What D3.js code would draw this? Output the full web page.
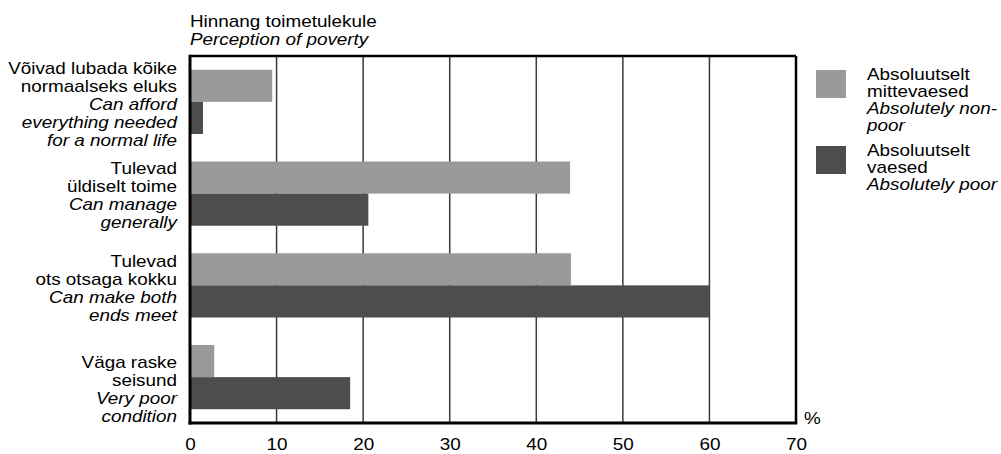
<!DOCTYPE html>
<html><head><meta charset="utf-8">
<script src="https://cdn.jsdelivr.net/npm/d3@7"></script>
<style>
html,body{margin:0;padding:0;background:#fff;}
svg{display:block;font-family:"Liberation Sans",Arial,sans-serif;}
</style></head>
<body><svg id="c" width="1001" height="454"></svg>
<script>
// ---- data ----
const categories = ["afford", "manage", "ends", "poorcond"];
const categoryLabelsEt = [
  ["Võivad lubada kõike", "normaalseks eluks"],
  ["Tulevad", "üldiselt toime"],
  ["Tulevad", "ots otsaga kokku"],
  ["Väga raske", "seisund"]
];
const categoryLabelsEn = [
  ["Can afford", "everything needed", "for a normal life"],
  ["Can manage", "generally"],
  ["Can make both", "ends meet"],
  ["Very poor", "condition"]
];
const seriesKeys = ["nonPoor", "poor"];
const seriesLabelsEt = [["Absoluutselt", "mittevaesed"], ["Absoluutselt", "vaesed"]];
const seriesLabelsEn = [["Absolutely non-", "poor"], ["Absolutely poor"]];
const nonPoorValues = [9.5, 43.9, 44.0, 2.8];
const poorValues = [1.5, 20.6, 60.0, 18.5];
const xTicks = [0, 10, 20, 30, 40, 50, 60, 70];
const titleLines = ["Hinnang toimetulekule", "Perception of poverty"];
const unitLabel = "%";

// ---- layout ----
const svg = d3.select("#c");
const L = 190, R = 796, T = 56, B = 423;
const SX = 1.18, FS = 16, LH = 18;
const colors = {nonPoor: "#9a9a9a", poor: "#4d4d4d"};
const labelShift = [3, 2, 4, 13];

const x = d3.scaleLinear().domain([0, 70]).range([L, R]);
const y = d3.scaleBand().domain(categories).range([T, B]).paddingInner(0.3).paddingOuter(0.15);
const ys = d3.scaleBand().domain(seriesKeys).range([0, y.bandwidth()]);

function txt(g, xx, yy, s, anchor, italic) {
  const gg = g.append("g").attr("transform", `translate(${xx},${yy}) scale(${SX},1)`);
  gg.append("text").attr("text-anchor", anchor || "start")
    .attr("font-size", FS).attr("font-style", italic ? "italic" : "normal")
    .attr("fill", "#000").text(s);
}

// gridlines
svg.append("g").selectAll("line").data(xTicks.slice(1, -1)).join("line")
  .attr("x1", d => x(d)).attr("x2", d => x(d)).attr("y1", T).attr("y2", B)
  .attr("stroke", "#3a3a3a").attr("stroke-width", 1.5);

// bars
const data = categories.map((c, i) => ({c, nonPoor: nonPoorValues[i], poor: poorValues[i]}));
const gBars = svg.append("g");
data.forEach(d => {
  seriesKeys.forEach(k => {
    gBars.append("rect")
      .attr("x", x(0)).attr("y", y(d.c) + ys(k))
      .attr("width", x(d[k]) - x(0)).attr("height", ys.bandwidth())
      .attr("fill", colors[k]);
  });
});

// frame
svg.append("line").attr("x1", L).attr("x2", R).attr("y1", T).attr("y2", T).attr("stroke", "#000").attr("stroke-width", 2.5);
svg.append("line").attr("x1", R).attr("x2", R).attr("y1", T).attr("y2", B).attr("stroke", "#000").attr("stroke-width", 2.5);
svg.append("line").attr("x1", L).attr("x2", L).attr("y1", T - 1.25).attr("y2", B + 1.5).attr("stroke", "#000").attr("stroke-width", 3);
svg.append("line").attr("x1", L - 1.5).attr("x2", R + 1.25).attr("y1", B).attr("y2", B).attr("stroke", "#000").attr("stroke-width", 3);

// x axis tick labels
const xAxis = d3.axisBottom(x).tickValues(xTicks).tickSize(0).tickPadding(0).tickFormat(d3.format("d"));
const gx = svg.append("g").attr("transform", `translate(0,${B})`).call(xAxis);
gx.select(".domain").remove();
gx.selectAll(".tick text").attr("dy", null).attr("y", 27)
  .attr("font-size", FS).attr("font-family", "Liberation Sans, Arial, sans-serif").attr("fill", "#000")
  .attr("transform", `scale(${SX},1)`);
txt(svg, 804, 424, unitLabel, "start", false);

// title
txt(svg, 190, 27, titleLines[0], "start", false);
txt(svg, 190, 45, titleLines[1], "start", true);

// category labels
categories.forEach((c, i) => {
  const lines = categoryLabelsEt[i].map(s => ({s, it: false})).concat(categoryLabelsEn[i].map(s => ({s, it: true})));
  const cy = y(c) + y.bandwidth() / 2 + labelShift[i];
  const n = lines.length;
  lines.forEach((ln, j) => {
    txt(svg, 177, cy + (j - (n - 1) / 2) * LH + 5, ln.s, "end", ln.it);
  });
});

// legend
const legTop = [70, 146];
seriesKeys.forEach((k, i) => {
  svg.append("rect").attr("x", 816).attr("y", legTop[i]).attr("width", 30).attr("height", 28).attr("fill", colors[k]);
  const lines = seriesLabelsEt[i].map(s => ({s, it: false})).concat(seriesLabelsEn[i].map(s => ({s, it: true})));
  lines.forEach((ln, j) => txt(svg, 867, legTop[i] + 10 + j * 17, ln.s, "start", ln.it));
});
</script>
</body></html>
